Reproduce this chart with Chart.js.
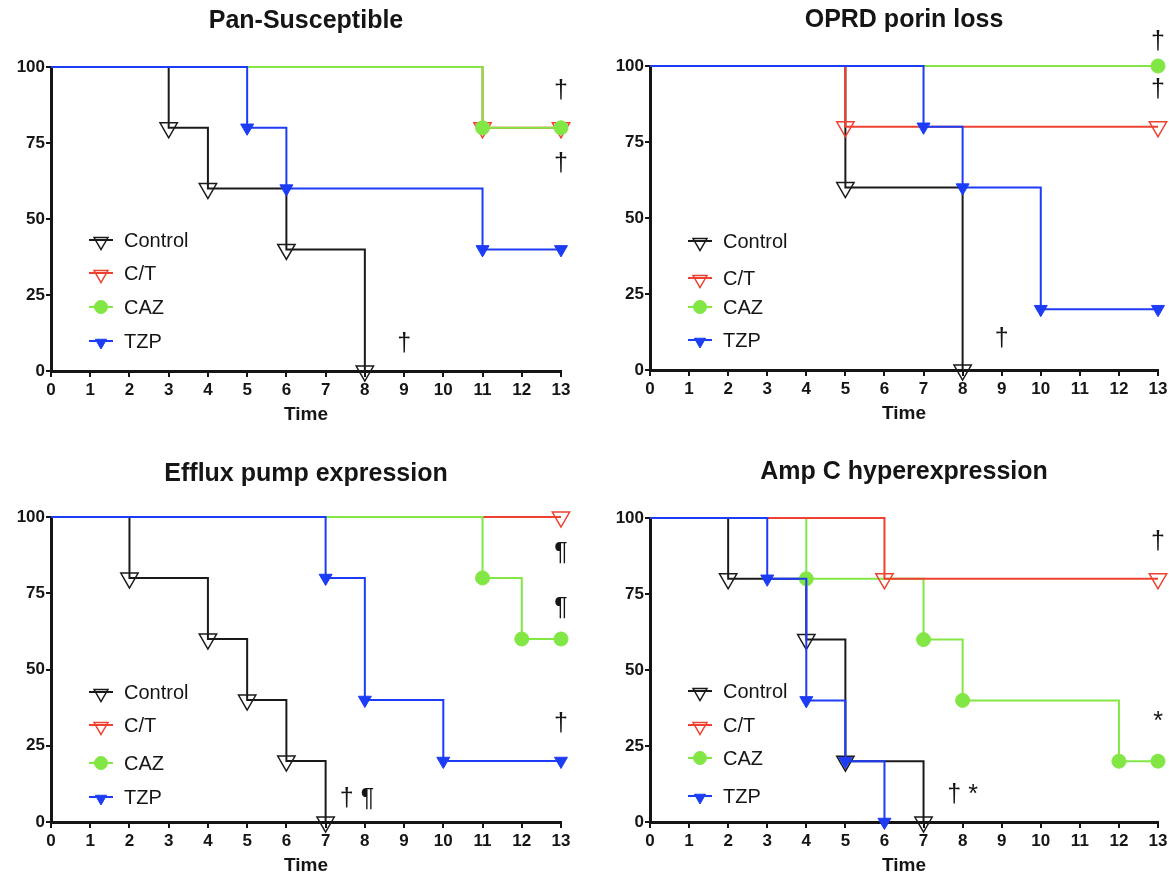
<!DOCTYPE html>
<html><head><meta charset="utf-8">
<script src="https://cdn.jsdelivr.net/npm/chart.js@4.4.1/dist/chart.umd.min.js"></script>
<style>
html,body{margin:0;padding:0;background:#fff;overflow:hidden;width:1169px;height:872px;position:relative}
canvas{position:absolute}
</style></head><body>
<canvas id="c1" width="584" height="440" style="left:0;top:-10px"></canvas>
<canvas id="c2" width="584" height="440" style="left:599px;top:-11px"></canvas>
<canvas id="c3" width="584" height="440" style="left:0;top:441px"></canvas>
<canvas id="c4" width="584" height="440" style="left:599px;top:441px"></canvas>
<script>
// ---------- DATA ----------
const seriesNames = ['Control', 'C/T', 'CAZ', 'TZP'];
const xTicks = [0,1,2,3,4,5,6,7,8,9,10,11,12,13];
const yTicks = [0,25,50,75,100];
const panelTitles = ['Pan-Susceptible', 'OPRD porin loss', 'Efflux pump expression', 'Amp C hyperexpression'];

// Pan-Susceptible  [time, % survival]
const panControl = [[0,100],[3,80],[4,60],[6,40],[8,0]];
const panCT      = [[0,100],[11,80],[13,80]];
const panCAZ     = [[0,100],[11,80],[13,80]];
const panTZP     = [[0,100],[5,80],[6,60],[11,40],[13,40]];
const panMarks   = [['\u2020',13,92],['\u2020',13,68],['\u2020',9,9]];

// OPRD porin loss
const oprdControl = [[0,100],[5,60],[8,0]];
const oprdCT      = [[0,100],[5,80],[13,80]];
const oprdCAZ     = [[0,100],[13,100]];
const oprdTZP     = [[0,100],[7,80],[8,60],[10,20],[13,20]];
const oprdMarks   = [['\u2020',13,108],['\u2020',13,92],['\u2020',9,10]];

// Efflux pump expression
const effControl = [[0,100],[2,80],[4,60],[5,40],[6,20],[7,0]];
const effCT      = [[0,100],[13,100]];
const effCAZ     = [[0,100],[11,80],[12,60],[13,60]];
const effTZP     = [[0,100],[7,80],[8,40],[10,20],[13,20]];
const effMarks   = [['\u00B6',13,88],['\u00B6',13,70],['\u2020',13,32],['\u2020 \u00B6',7.8,7.5]];

// Amp C hyperexpression
const ampControl = [[0,100],[2,80],[4,60],[5,20],[7,0]];
const ampCT      = [[0,100],[6,80],[13,80]];
const ampCAZ     = [[0,100],[4,80],[7,60],[8,40],[12,20],[13,20]];
const ampTZP     = [[0,100],[3,80],[4,40],[5,20],[6,0]];
const ampMarks   = [['\u2020',13,92],['*',13,33],['\u2020 *',8.0,9]];

// ---------- STYLE ----------
const FONT = '"Liberation Sans", Arial, Helvetica, sans-serif';
const INK = '#151515';
const styles = [
  {color:'#1a1a1a', fill:'rgba(0,0,0,0)', style:'triangle', rot:180, r:10,  lr:8,   bw:1.5},
  {color:'#ee4130', fill:'rgba(0,0,0,0)', style:'triangle', rot:180, r:10,  lr:8,   bw:1.5},
  {color:'#82e645', fill:'#82e645',       style:'circle',   rot:0,   r:7,   lr:6.5, bw:1},
  {color:'#1c3cf5', fill:'#1c3cf5',       style:'triangle', rot:180, r:7.5, lr:6.5, bw:1}
];

const panels = [
  {id:'c1', title:panelTitles[0], series:[panControl,panCT,panCAZ,panTZP], marks:panMarks,
   padTop:77, padRight:23, titleY:31, order:[3,2,1,0], legendRows:[173,206,240,274]},
  {id:'c2', title:panelTitles[1], series:[oprdControl,oprdCT,oprdCAZ,oprdTZP], marks:oprdMarks,
   padTop:77, padRight:25, titleY:31, order:[3,2,1,0], legendRows:[175,212,241,274]},
  {id:'c3', title:panelTitles[2], series:[effControl,effCT,effCAZ,effTZP], marks:effMarks,
   padTop:76, padRight:23, titleY:33, order:[3,2,1,0], legendRows:[175,208,246,280]},
  {id:'c4', title:panelTitles[3], series:[ampControl,ampCT,ampCAZ,ampTZP], marks:ampMarks,
   padTop:77, padRight:25, titleY:31, order:[3,1,2,0], legendRows:[173,207,240,278]}
];

function drawMarker(ctx, st, x, y, r) {
  ctx.save();
  ctx.strokeStyle = st.color;
  ctx.fillStyle = st.fill;
  ctx.lineWidth = st.bw;
  const opts = {pointStyle: st.style, rotation: st.rot, radius: r, borderWidth: st.bw};
  if (Chart.helpers && Chart.helpers.drawPoint) {
    Chart.helpers.drawPoint(ctx, opts, x, y);
  }
  ctx.restore();
}

const overlay = {
  id: 'overlay',
  afterDraw(chart, args, opts) {
    const p = opts.panel;
    const {ctx, chartArea: ca} = chart;
    const xs = chart.scales.x, ys = chart.scales.y;
    ctx.save();
    // title
    ctx.fillStyle = INK;
    ctx.textAlign = 'center';
    ctx.textBaseline = 'middle';
    ctx.font = 'bold 25px ' + FONT;
    ctx.fillText(p.title, (ca.left + ca.right) / 2, p.titleY);
    // legend
    seriesNames.forEach((name, i) => {
      const st = styles[i];
      const yy = ca.top + p.legendRows[i];
      ctx.strokeStyle = st.color;
      ctx.lineWidth = 2;
      ctx.beginPath();
      ctx.moveTo(ca.left + 38, yy);
      ctx.lineTo(ca.left + 62, yy);
      ctx.stroke();
      drawMarker(ctx, st, ca.left + 50, yy + (st.style === 'triangle' ? 1.5 : 0), st.lr);
      ctx.fillStyle = INK;
      ctx.textAlign = 'left';
      ctx.font = '20px ' + FONT;
      ctx.fillText(name, ca.left + 73, yy + 1);
    });
    // significance marks
    ctx.fillStyle = INK;
    ctx.textAlign = 'center';
    ctx.font = '25px ' + FONT;
    p.marks.forEach(([txt, xv, yv]) => {
      ctx.fillText(txt, xs.getPixelForValue(xv), ys.getPixelForValue(yv));
    });
    ctx.restore();
  }
};

panels.forEach(p => {
  const datasets = p.series.map((pts, i) => {
    const st = styles[i];
    return {
      label: seriesNames[i],
      data: pts.map(([x, y]) => ({x, y})),
      stepped: true,
      borderColor: st.color,
      borderWidth: 2,
      fill: false,
      clip: false,
      order: p.order[i],
      pointStyle: st.style,
      pointRotation: st.rot,
      pointRadius: c => c.dataIndex === 0 ? 0 : st.r,
      pointHoverRadius: c => c.dataIndex === 0 ? 0 : st.r,
      pointBackgroundColor: st.fill,
      pointBorderColor: st.color,
      pointBorderWidth: st.bw
    };
  });
  new Chart(document.getElementById(p.id), {
    type: 'line',
    data: {datasets},
    options: {
      responsive: false,
      animation: false,
      events: [],
      layout: {padding: {top: p.padTop, right: p.padRight, left: 0, bottom: 0}},
      plugins: {
        legend: {display: false},
        title: {display: false},
        tooltip: {enabled: false},
        overlay: {panel: p}
      },
      scales: {
        x: {
          type: 'linear', min: 0, max: 13,
          afterBuildTicks: s => { s.ticks = xTicks.map(v => ({value: v})); },
          afterFit: s => { s.height = 59; },
          grid: {display: true, drawOnChartArea: false, drawTicks: true, tickLength: 6, color: INK, lineWidth: 2},
          border: {display: true, color: INK, width: 3},
          ticks: {color: INK, font: {family: FONT, size: 17, weight: 'bold'}, padding: 3, maxRotation: 0, autoSkip: false},
          title: {display: true, text: 'Time', color: INK, font: {family: FONT, size: 19, weight: 'bold'}, padding: {top: 0, bottom: 4}}
        },
        y: {
          type: 'linear', min: 0, max: 100,
          afterBuildTicks: s => { s.ticks = yTicks.map(v => ({value: v})); },
          afterFit: s => { s.width = 51; },
          grid: {display: true, drawOnChartArea: false, drawTicks: true, tickLength: 5, color: INK, lineWidth: 2},
          border: {display: true, color: INK, width: 3},
          ticks: {color: INK, font: {family: FONT, size: 17, weight: 'bold'}, padding: 1}
        }
      }
    },
    plugins: [overlay]
  });
});
</script>
</body></html>
